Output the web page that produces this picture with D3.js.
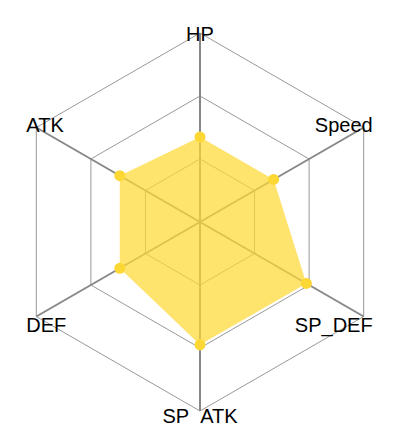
<!DOCTYPE html>
<html><head><meta charset="utf-8">
<script src="https://cdn.jsdelivr.net/npm/d3@7"></script>
<style>body{margin:0;background:#fff}svg{display:block}</style>
</head><body>
<svg id="c" width="402" height="442"></svg>
<script>
const axes = ["HP", "Speed", "SP_DEF", "SP\u00A0\u00A0ATK", "DEF", "ATK"];
const values = [45, 45, 65, 65, 49, 49];
const maxValue = 100;
const ringLevels = [1, 2, 3];

const W = 402, H = 442, cx = 200, cy = 222, R = 189;
const svg = d3.select("#c");
const r = d3.scaleLinear().domain([0, maxValue]).range([0, R]);
const ang = d3.scaleLinear().domain([0, axes.length]).range([0, 2 * Math.PI]);
const pt = (i, rad) => [cx + rad * Math.sin(ang(i)), cy - rad * Math.cos(ang(i))];

const g = svg.append("g");
// rings
ringLevels.forEach(l => {
  const rad = R * l / ringLevels.length;
  g.append("polygon")
    .attr("points", axes.map((a, i) => pt(i, rad).join(",")).join(" "))
    .attr("fill", "none").attr("stroke", "#999").attr("stroke-width", 1);
});
// axes
axes.forEach((a, i) => {
  const [x, y] = pt(i, R);
  g.append("line").attr("x1", cx).attr("y1", cy).attr("x2", x).attr("y2", y)
    .attr("stroke", "#888").attr("stroke-width", 2);
});
// area
const line = d3.line().curve(d3.curveLinearClosed);
g.append("path")
  .attr("d", line(values.map((v, i) => pt(i, r(v)))))
  .attr("fill", "#FDD835").attr("fill-opacity", 0.72);
// points
g.selectAll("circle.p").data(values).join("circle")
  .attr("cx", (v, i) => pt(i, r(v))[0]).attr("cy", (v, i) => pt(i, r(v))[1])
  .attr("r", 5.5).attr("fill", "#FDD835");
// labels
axes.forEach((a, i) => {
  const [x, y] = pt(i, R);
  const s = Math.sin(ang(i)), c = Math.cos(ang(i));
  let anchor = "middle", tx = x, ty = y;
  if (s > 0.1) { anchor = "end"; tx = x + 9; }
  else if (s < -0.1) { anchor = "start"; tx = x - 10; }
  if (Math.abs(s) > 0.1) ty = c > 0 ? y - 2.5 : y + 8;
  else ty = c > 0 ? y + 1 : y + 4.5;
  g.append("text").attr("x", tx).attr("y", ty)
    .attr("text-anchor", anchor).attr("dominant-baseline", "central")
    .attr("font-family", "Liberation Sans, Arial, sans-serif").attr("font-size", 20)
    .attr("fill", "#000").text(a);
});
</script>
</body></html>
